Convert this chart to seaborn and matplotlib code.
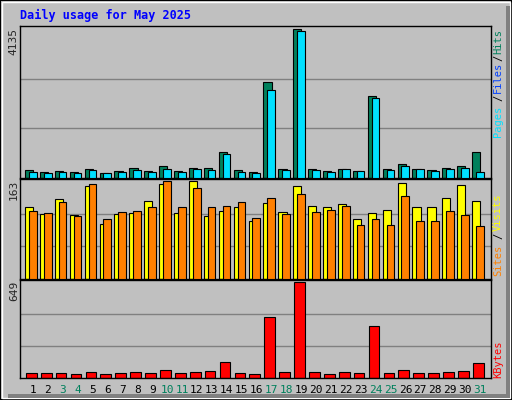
import numpy as np
import matplotlib
matplotlib.use("Agg")
import matplotlib.pyplot as plt
import seaborn as sns
from matplotlib.patches import Rectangle

days = list(range(1, 32))
weekend_days = [3, 4, 10, 11, 17, 18, 24, 25, 31]
hits = [234, 178, 206, 178, 262, 150, 206, 290, 206, 346, 206, 290, 290, 711, 234,
        178, 2658, 262, 4135, 262, 206, 262, 206, 2265, 262, 402, 262, 234, 290, 346, 711]
files = [178, 150, 178, 150, 234, 150, 178, 234, 178, 262, 178, 262, 234, 655, 178,
         150, 2452, 234, 4080, 234, 178, 262, 206, 2228, 234, 346, 262, 206, 262, 290, 178]
visits = [120, 108, 133, 106, 154, 92, 108, 110, 129, 158, 110, 163, 105, 113, 119,
          96, 126, 112, 154, 122, 120, 124, 99, 110, 115, 159, 120, 119, 135, 156, 129]
sites = [113, 110, 128, 105, 158, 99, 112, 113, 119, 163, 120, 151, 119, 122, 128,
         101, 135, 108, 142, 112, 115, 122, 90, 99, 90, 138, 96, 96, 113, 106, 88]
kbytes = [31, 31, 31, 24, 38, 24, 31, 38, 31, 52, 31, 38, 45, 109, 31,
          24, 415, 38, 649, 38, 24, 38, 31, 351, 31, 52, 31, 31, 38, 45, 102]

BG = "#C0C0C0"
sns.set_style("white")
plt.rcParams["font.family"] = ["DejaVu Sans Mono"]

W, H = 512, 400
fig = plt.figure(figsize=(5.12, 4.0), dpi=100, facecolor=BG)

def pax(x0, y0, x1, y1):
    # pixel box (top-left origin) -> axes
    return fig.add_axes([x0 / W, 1 - y1 / H, (x1 - x0) / W, (y1 - y0) / H])

# outer bevel
fig.patches.append(Rectangle((0, 0), 1, 1, transform=fig.transFigure, fill=False,
                             ec="black", lw=1.5))
fig.patches.append(Rectangle((2 / W, 2 / H), (W - 4) / W, (H - 4) / H, transform=fig.transFigure,
                             fill=False, ec="white", lw=1))
fig.patches.append(Rectangle(((W - 6) / W, 2 / H), 4 / W, (H - 8) / H,
                             transform=fig.transFigure, fc="#808080", ec="none"))
fig.patches.append(Rectangle((8 / W, 2 / H), (W - 10) / W, 4 / H,
                             transform=fig.transFigure, fc="#808080", ec="none"))

x = np.array(days)
XL = (0.13, 31.74)

def style(ax, top, label):
    ax.set_facecolor(BG)
    ax.set_xlim(*XL)
    ax.set_ylim(0, top)
    for frac in (1 / 3, 2 / 3):
        ax.axhline(frac * top / 1.02, color="#808080", lw=1, zorder=0)
    ax.set_xticks([])
    ax.set_yticks([])
    for s in ax.spines.values():
        s.set_color("black")
        s.set_linewidth(1)
    ax.text(-0.013, 0.99, label, transform=ax.transAxes, rotation=90, ha="center", va="top",
            fontsize=8)

kw = dict(align="edge", edgecolor="black", linewidth=0.8)

ax1 = pax(20, 26, 491, 178)
ax1.bar(x - 0.53, hits, 0.55, color="#00805C", zorder=2, **kw)
ax1.bar(x - 0.27, files, 0.52, color="#00E0FF", zorder=3, **kw)
style(ax1, max(hits) * 1.02, "4135")

ax2 = pax(20, 179, 491, 279)
ax2.bar(x - 0.53, visits, 0.55, color="#FFFF00", zorder=2, **kw)
ax2.bar(x - 0.27, sites, 0.52, color="#FF8000", zorder=3, **kw)
style(ax2, max(visits) * 1.02, "163")

ax3 = pax(20, 280, 491, 378)
ax3.bar(x - 0.47, kbytes, 0.72, color="#FF0000", zorder=2, **kw)
style(ax3, max(kbytes) * 1.02, "649")

# day labels
for d in days:
    c = "#00805C" if d in weekend_days else "black"
    ax3.text(d, -0.12, str(d), transform=ax3.get_xaxis_transform(), ha="center", va="center",
             fontsize=8, color=c)

fig.text(20 / W, 1 - 15 / H, "Daily usage for May 2025", color="#0000FF", fontsize=8.5,
         fontweight="bold", va="center", ha="left")

def side(ypix, txt, col):
    fig.text(498 / W, 1 - ypix / H, txt, rotation=90, ha="center", va="center",
             fontsize=7.5, color=col)

side(41, "Hits", "#00805C")
side(58, "/", "black")
side(77, "Files", "#0040FF")
side(98, "/", "black")
side(121, "Pages", "#00E0FF")
side(212, "Visits", "#FFFF00")
side(236, "/", "black")
side(260, "Sites", "#FF8000")
side(359, "KBytes", "#FF0000")

fig.savefig("out.png", dpi=100, facecolor=BG)
